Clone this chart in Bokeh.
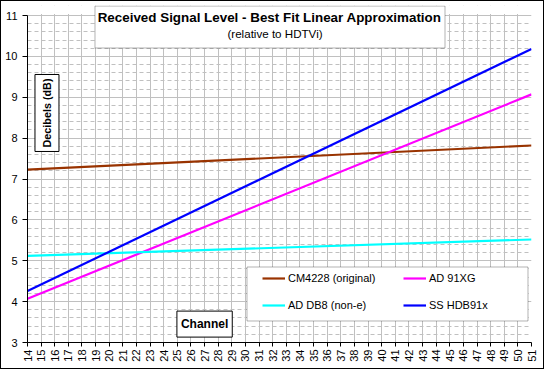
import math
from bokeh.plotting import figure
from bokeh.models import (BoxAnnotation, Label, Legend, LegendItem, SingleIntervalTicker,
                          FixedTicker, Range1d)
from bokeh.embed import file_html
from bokeh.resources import INLINE

# ---- data (best-fit line endpoints) ----
channel = [14, 51]
cm4228 = [7.23, 7.82]
ad91xg = [4.07, 9.07]
addb8 = [5.12, 5.52]
sshdb91x = [4.26, 10.18]

series_names = ["CM4228 (original)", "AD 91XG", "AD DB8 (non-e)", "SS HDB91x"]
series_values = [cm4228, ad91xg, addb8, sshdb91x]
series_colors = ["#993300", "#FF00FF", "#00FFFF", "#0000FF"]

x_ticks = list(range(14, 52))
y_min, y_max = 3, 11

FONT = "Liberation Sans"
GRID = "#c0c0c0"

# frame is extended a little above y=11 so the title box can sit there
y_top = y_max + 10 / 40.875

p = figure(width=544, height=369, output_backend="svg", toolbar_location=None,
           x_range=Range1d(14, 51), y_range=Range1d(y_min, y_top),
           min_border_left=26, min_border_right=14, min_border_top=4, min_border_bottom=28)
p.styles = {"border": "1px solid black"}
p.background_fill_color = "white"
p.border_fill_color = "white"
p.outline_line_color = None

# axes
p.xaxis.ticker = FixedTicker(ticks=x_ticks)
p.yaxis.ticker = SingleIntervalTicker(interval=1, num_minor_ticks=5)
p.yaxis.bounds = (y_min, y_max)
for ax in (p.xaxis[0], p.yaxis[0]):
    ax.axis_line_color = "black"
    ax.major_tick_line_color = "black"
    ax.major_tick_out = 5
    ax.major_tick_in = 0
    ax.minor_tick_out = 0
    ax.minor_tick_in = 0
    ax.major_label_text_font = FONT
    ax.major_label_text_font_size = "11px"
    ax.major_label_text_color = "black"
p.yaxis.major_label_standoff = 5
p.xaxis.major_label_standoff = 3
p.xaxis.major_tick_out = 4
p.xaxis.major_label_orientation = math.pi / 2

# grid
p.xgrid.grid_line_color = GRID
p.ygrid.grid_line_color = GRID
p.ygrid.minor_grid_line_color = GRID
p.ygrid.minor_grid_line_dash = "4 3"
p.ygrid.bounds = (y_min, y_max)

# white cover over the grid above the plot area
p.add_layout(BoxAnnotation(bottom=y_max + 1.5 / 40.875, fill_color="white", fill_alpha=1,
                           line_color=None, level="underlay"))

# lines
renderers = []
for name, vals, col in zip(series_names, series_values, series_colors):
    r = p.line(channel, vals, line_color=col, line_width=2.2)
    renderers.append(r)

# legend frame
p.add_layout(BoxAnnotation(left=30.114, right=50.743, top=4.847, bottom=3.526,
                           fill_color="white", fill_alpha=1, line_color="black", line_width=1))


def row_legend(idx, loc):
    lg = Legend(items=[LegendItem(label=series_names[i], renderers=[renderers[i]]) for i in idx],
                orientation="horizontal", location=loc)
    lg.border_line_color = None
    lg.background_fill_alpha = 0
    lg.padding = 0
    lg.margin = 0
    lg.spacing = 0
    lg.glyph_width = 23
    lg.glyph_height = 14
    lg.label_height = 14
    lg.label_width = 115
    lg.label_standoff = 3
    lg.label_text_font = FONT
    lg.label_text_font_size = "11px"
    lg.label_text_color = "black"
    p.add_layout(lg, "center")


row_legend([0, 1], (235, 57))
row_legend([2, 3], (235, 30))

# title box
p.add_layout(BoxAnnotation(left=18.955, right=44.65, top=11.232, bottom=10.205,
                           fill_color="white", fill_alpha=1, line_color="black", line_width=1))
p.add_layout(Label(x=31.77, y=10.95, text="Received Signal Level - Best Fit Linear Approximation",
                   text_font=FONT, text_font_size="13.4px", text_font_style="bold",
                   text_align="center", text_baseline="middle", text_color="black"))
p.add_layout(Label(x=32.17, y=10.56, text="(relative to HDTVi)",
                   text_font=FONT, text_font_size="11.6px",
                   text_align="center", text_baseline="middle", text_color="black"))

# axis title boxes
p.add_layout(Label(x=15.43, y=8.615, text="Decibels (dB)", angle=math.pi / 2,
                   text_font=FONT, text_font_size="10.8px", text_font_style="bold",
                   text_align="center", text_baseline="middle", text_color="black",
                   background_fill_color="white", border_line_color="black", padding=(4, 6)))
p.add_layout(Label(x=27.0, y=3.45, text="Channel",
                   text_font=FONT, text_font_size="12px", text_font_style="bold",
                   text_align="center", text_baseline="middle", text_color="black",
                   background_fill_color="white", border_line_color="black", padding=(4, 6)))

open("out.html", "w").write(file_html(p, INLINE))
